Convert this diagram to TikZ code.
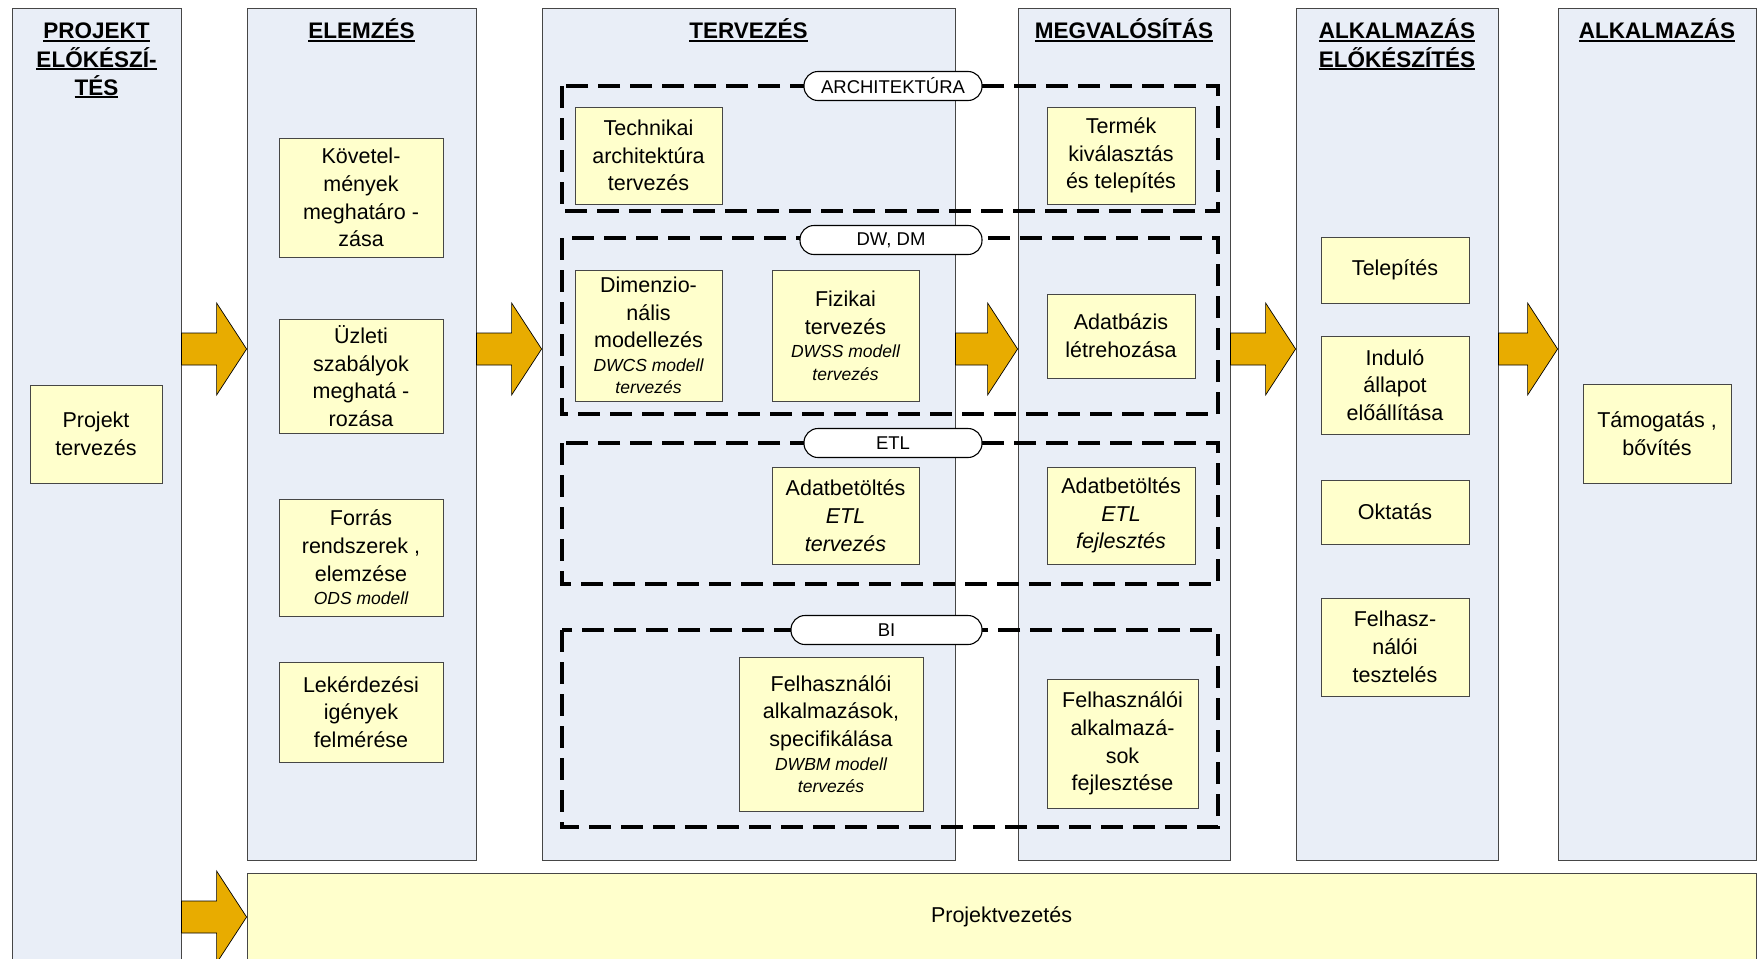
\documentclass[tikz,border=0pt]{standalone}
\usepackage{fontspec}
\setmainfont{Liberation Sans}
\usetikzlibrary{calc}
\definecolor{colbg}{RGB}{233,238,247}
\definecolor{boxbg}{RGB}{255,255,204}
\definecolor{arrowfill}{RGB}{232,172,0}
\definecolor{edgegray}{RGB}{70,70,70}
\newcommand\hdul[1]{\setbox0\hbox{#1}\rlap{\rule[-3.2pt]{\wd0}{2.2pt}}\box0}
\newcommand\smit{\fontsize{17.5}{22}\selectfont\itshape}
\newcommand\colbox[5]{\node[colstyle, minimum width={(#4-#2)*1pt}, minimum height={(#5-#3)*1pt}] (#1) at ({(#2+#4)/2},{(#3+#5)/2}) {};}
\newcommand\ybox[6]{\node[boxstyle, minimum width={(#4-#2)*1pt}, minimum height={(#5-#3)*1pt}] (#1) at ({(#2+#4)/2},{(#3+#5)/2}) {#6};}
\newcommand\barrow[3]{\filldraw[garrow] let \p1=(#1.east|-#3), \p2=(#2.west|-#3) in
  (\x1,\y1+16pt) -- (\x2-30pt,\y1+16pt) -- (\x2-30pt,\y1+46pt) -- (\x2,\y1)
  -- (\x2-30pt,\y1-46pt) -- (\x2-30pt,\y1-16pt) -- (\x1,\y1-16pt) -- cycle;}
\tikzset{
  colstyle/.style={draw=edgegray, fill=colbg, line width=0.8pt, inner sep=0pt},
  boxstyle/.style={draw=edgegray, fill=boxbg, line width=0.8pt, align=center, inner sep=0pt,
    font=\fontsize{21.5}{27.7}\selectfont},
  hdr/.style={anchor=base, inner sep=0pt, font=\fontsize{22.5}{28}\selectfont\bfseries},
  garrow/.style={fill=arrowfill, draw=black, line width=0.7pt},
  grp/.style={draw=black, line width=4.2pt, dash pattern=on 22pt off 10pt},
  pill/.style={draw=black, fill=white, line width=1.1pt, rounded corners=14pt, inner sep=0pt,
    minimum height=29pt, font=\fontsize{18.5}{22}\selectfont}
}
\begin{document}
\begin{tikzpicture}[x=1pt,y=-1pt]
\useasboundingbox (0,0) rectangle (1760,958);
\clip (0,0) rectangle (1760,958);
\fill[white] (0,0) rectangle (1760,958);
% columns
\colbox{c1}{12}{8}{181}{975}
\colbox{c2}{247}{8}{476}{860}
\colbox{c3}{542}{8}{955}{860}
\colbox{c4}{1018}{8}{1230}{860}
\colbox{c5}{1296}{8}{1498}{860}
\colbox{c6}{1558}{8}{1756}{860}
\node[boxstyle, minimum width=1509pt, minimum height=88pt] (pv) at (1001.5,917) {Projektvezetés};
% headers
\node[hdr] (h1a) at (96.5,39) {\hdul{PROJEKT}};
\node[hdr] (h1b) at (96.5,67) {\hdul{ELŐKÉSZÍ-}};
\node[hdr] (h1c) at (96.5,95) {\hdul{TÉS}};
\node[hdr] (h2) at (361.5,39) {\hdul{ELEMZÉS}};
\node[hdr] (h3) at (748.5,39) {\hdul{TERVEZÉS}};
\node[hdr] (h4) at (1124,39) {\hdul{MEGVALÓSÍTÁS}};
\node[hdr] (h5a) at (1397,39) {\hdul{ALKALMAZÁS}};
\node[hdr] (h5b) at (1397,67) {\hdul{ELŐKÉSZÍTÉS}};
\node[hdr] (h6) at (1657,39) {\hdul{ALKALMAZÁS}};
% arrows
\coordinate (ay) at (0,349);
\coordinate (pvy) at (0,917);
\barrow{c1}{c2}{ay}
\barrow{c2}{c3}{ay}
\barrow{c3}{c4}{ay}
\barrow{c4}{c5}{ay}
\barrow{c5}{c6}{ay}
\barrow{c1}{pv}{pvy}
% dashed groups
\draw[grp] (562,86) rectangle (1218,211);
\draw[grp] (562,238) rectangle (1218,414);
\draw[grp] (562,443) rectangle (1218,584);
\draw[grp] (562,630) rectangle (1218,827);
\node[pill, minimum width=178pt] (parch) at (893,86) {ARCHITEKTÚRA};
\node[pill, minimum width=182pt] (pdw) at (891,240) {DW, DM};
\node[pill, minimum width=178pt] (petl) at (893,443) {ETL};
\node[pill, minimum width=191pt] (pbi) at (886.5,630) {BI};
% boxes
\ybox{prj}{30}{385}{162}{483}{Projekt\\tervezés}
\ybox{kov}{279}{138}{443}{257}{Követel-\\mények\\meghatáro -\\zása}
\ybox{uzl}{279}{319}{443}{433}{Üzleti\\szabályok\\meghatá -\\rozása}
\ybox{forr}{279}{499}{443}{616}{Forrás\\rendszerek ,\\elemzése\\[-4pt]\smit ODS modell}
\ybox{lek}{279}{662}{443}{762}{Lekérdezési\\igények\\felmérése}
\ybox{tech}{575}{107}{722}{204}{Technikai\\architektúra\\tervezés}
\ybox{term}{1047}{107}{1195}{204}{Termék\\kiválasztás\\és telepítés}
\ybox{dim}{575}{270}{722}{401}{Dimenzio-\\nális\\modellezés\\[-4pt]\smit DWCS modell\\[-5.5pt]\smit tervezés}
\ybox{fiz}{772}{270}{919}{401}{Fizikai\\tervezés\\[-4pt]\smit DWSS modell\\[-5.5pt]\smit tervezés}
\ybox{adb}{1047}{294}{1195}{378}{Adatbázis\\létrehozása}
\ybox{etlt}{772}{467}{919}{564}{Adatbetöltés\\\itshape ETL\\\itshape tervezés}
\ybox{etlf}{1047}{467}{1195}{564}{Adatbetöltés\\\itshape ETL\\\itshape fejlesztés}
\ybox{fas}{739}{657}{923}{811}{Felhasználói\\alkalmazások,\\specifikálása\\[-4pt]\smit DWBM modell\\[-5.5pt]\smit tervezés}
\ybox{faf}{1047}{679}{1198}{808}{Felhasználói\\alkalmazá-\\sok\\fejlesztése}
\ybox{tel}{1321}{237}{1469}{303}{Telepítés}
\ybox{ind}{1321}{336}{1469}{434}{Induló\\állapot\\előállítása}
\ybox{okt}{1321}{480}{1469}{544}{Oktatás}
\ybox{fte}{1321}{598}{1469}{696}{Felhasz-\\nálói\\tesztelés}
\ybox{tam}{1583}{384}{1731}{483}{Támogatás ,\\bővítés}
\end{tikzpicture}
\end{document}
